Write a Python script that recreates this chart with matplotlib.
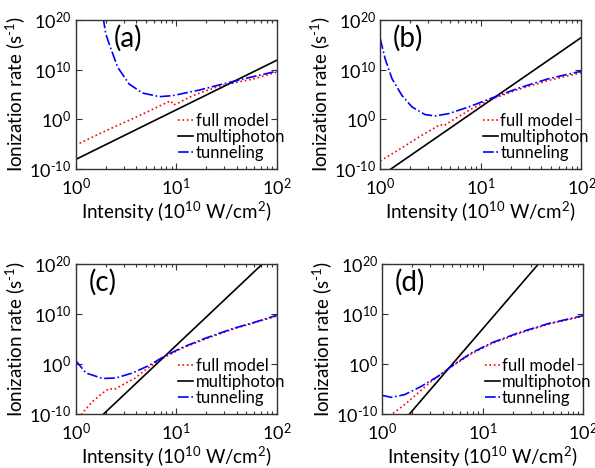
import numpy as np
import matplotlib
matplotlib.use("Agg")
import matplotlib.pyplot as plt
from matplotlib.ticker import FixedLocator, LogLocator, NullFormatter

plt.rcParams['font.family'] = ['Lato', 'DejaVu Sans']
plt.rcParams['mathtext.fontset'] = 'custom'
plt.rcParams['mathtext.rm'] = 'Lato'
plt.rcParams['mathtext.it'] = 'Lato:italic'
plt.rcParams['mathtext.bf'] = 'Lato:bold'

# --- data: intensity (1e10 W/cm^2) and log10 of the ionization rate (s^-1) ---
# (a)
a_tun_x = [1.88, 2.0, 2.16, 2.62, 3.42, 4.64, 6.81, 9.2, 17.0, 28.8, 49.5, 100]
a_tun_y = [20.5, 17.2, 15.2, 10.5, 7.1, 5.3, 4.57, 4.77, 5.9, 7.1, 8.27, 9.7]
a_full_x = [1.0, 2.0, 4.3, 8.3, 8.9, 9.4, 10.5, 14.6, 24.9, 39.4, 57.7, 100]
a_full_y = [-5.2, -2.3, 0.74, 3.5, 3.7, 2.9, 3.3, 4.77, 6.46, 7.46, 8.1, 9.5]
a_mp_x = [1.0, 100]
a_mp_y = [-8.1, 11.9]

# (b)
b_tun_x = [1.0, 1.12, 1.31, 1.64, 2.07, 2.8, 3.52, 4.79, 7.6, 12.9, 23.8, 47.3, 100]
b_tun_y = [16.3, 12.2, 8.2, 4.85, 2.5, 0.95, 0.68, 1.15, 2.5, 4.3, 6.3, 8.2, 9.7]
b_full_x = [1.0, 1.64, 2.6, 3.95, 4.27, 5.57, 8.17, 12.0, 23.8, 47.3, 100]
b_full_y = [-8.4, -5.75, -3.2, -1.05, -1.3, 0.15, 2.15, 3.84, 6.05, 7.85, 9.4]
b_mp_x = [1.0, 100]
b_mp_y = [-11.5, 16.5]

# (c)
c_tun_x = [1.0, 1.27, 1.86, 2.51, 3.69, 5.4, 7.6, 11.6, 19.8, 36.5, 60.0, 100]
c_tun_y = [0.7, -1.8, -2.9, -2.8, -1.8, -0.27, 1.53, 3.33, 5.2, 7.07, 8.33, 9.73]
c_full_x = [1.1, 1.17, 1.48, 1.86, 2.16, 2.43, 3.16, 3.84, 5.0, 6.8, 11.6, 19.8, 36.5, 100]
c_full_y = [-11.0, -9.8, -7.47, -5.8, -4.93, -5.1, -3.8, -2.93, -1.13, 0.8, 3.2, 5.05, 6.95, 9.6]
c_mp_x = [1.0, 100]
c_mp_y = [-15.3, 22.7]

# (d)
d_tun_x = [1.0, 1.24, 1.68, 2.46, 3.61, 5.28, 7.74, 12.2, 22.5, 44.9, 100]
d_tun_y = [-6.27, -6.67, -6.13, -4.47, -2.47, 0.0, 2.2, 4.2, 6.2, 8.07, 9.67]
d_full_x = [1.2, 1.26, 1.68, 2.28, 3.1, 4.2, 5.28, 7.74, 12.2, 22.5, 44.9, 100]
d_full_y = [-10.5, -10.0, -8.13, -5.8, -3.47, -1.47, -0.1, 2.05, 4.05, 6.05, 7.95, 9.55]
d_mp_x = [1.0, 100]
d_mp_y = [-16.4, 30.4]

panel_labels = ["(a)", "(b)", "(c)", "(d)"]
legend_labels = ["full model", "multiphoton", "tunneling"]
y_ticks = [1e-10, 1e0, 1e10, 1e20]
y_ticklabels = ["$10^{\u201010}$", "$10^{0}$", "$10^{10}$", "$10^{20}$"]
x_ticks = [1, 10, 100]
x_ticklabels = ["$10^{0}$", "$10^{1}$", "$10^{2}$"]

panels = [
    (a_full_x, a_full_y, a_mp_x, a_mp_y, a_tun_x, a_tun_y),
    (b_full_x, b_full_y, b_mp_x, b_mp_y, b_tun_x, b_tun_y),
    (c_full_x, c_full_y, c_mp_x, c_mp_y, c_tun_x, c_tun_y),
    (d_full_x, d_full_y, d_mp_x, d_mp_y, d_tun_x, d_tun_y),
]

# axes boxes in figure fractions
boxes = [
    [0.127, 0.639, 0.338, 0.318],
    [0.639, 0.639, 0.338, 0.318],
    [0.127, 0.1154, 0.338, 0.3205],
    [0.642, 0.1154, 0.338, 0.3205],
]
label_x = [0.19, 0.06, 0.065, 0.065]

fig = plt.figure(figsize=(5.95, 4.68), dpi=100)
frame_col = "#333333"

for i, (fx, fy, mx, my, tx, ty) in enumerate(panels):
    ax = fig.add_axes(boxes[i])
    ax.plot(fx, 10 ** np.array(fy), color="red", ls=":", lw=1.2, label=legend_labels[0])
    ax.plot(mx, 10 ** np.array(my), color="black", ls="-", lw=1.2, label=legend_labels[1])
    ax.plot(tx, 10 ** np.array(ty), color="blue", ls="-.", lw=1.2, label=legend_labels[2])
    ax.set_xscale("log")
    ax.set_yscale("log")
    ax.set_xlim(1, 100)
    ax.set_ylim(1e-10, 1e20)

    ax.yaxis.set_major_locator(FixedLocator(y_ticks))
    ax.set_yticklabels(y_ticklabels)
    ax.yaxis.set_minor_locator(FixedLocator([]))
    ax.xaxis.set_major_locator(FixedLocator(x_ticks))
    ax.set_xticklabels(x_ticklabels)
    ax.xaxis.set_minor_locator(LogLocator(base=10, subs=np.arange(2, 10)))
    ax.xaxis.set_minor_formatter(NullFormatter())
    ax.tick_params(which="both", direction="in", top=True, right=True,
                   colors=frame_col, labelcolor="black", labelsize=13, width=0.8)
    ax.tick_params(which="major", length=4)
    ax.tick_params(axis="y", which="major", pad=3)
    ax.tick_params(axis="x", which="major", pad=6)
    ax.tick_params(which="minor", length=2)
    for s in ax.spines.values():
        s.set_color(frame_col)
        s.set_linewidth(1.0)

    ax.set_xlabel("Intensity (10$^{10}$ W/cm$^{2}$)", fontsize=13.5, labelpad=1)
    ax.set_ylabel("Ionization rate (s$^{\u20101}$)", fontsize=13.5, labelpad=1.5)
    ax.text(label_x[i], 0.965, panel_labels[i], transform=ax.transAxes,
            fontsize=20, va="top", ha="left")
    ax.legend(loc="upper left", bbox_to_anchor=(0.51, 0.375), frameon=False,
              fontsize=12, handlelength=0.9, handletextpad=0.15, borderpad=0,
              labelspacing=0.0, borderaxespad=0)

fig.savefig("out.png", dpi=100)
